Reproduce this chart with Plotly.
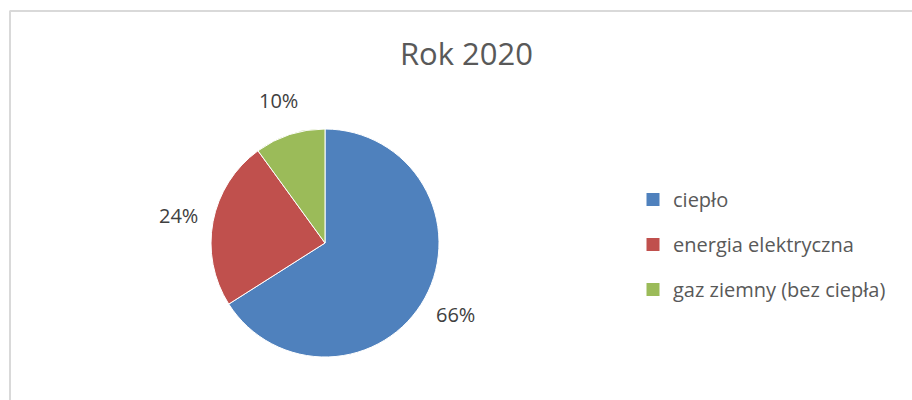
import math
import plotly.graph_objects as go

# ---- data ----
categories = ["ciepło", "energia elektryczna", "gaz ziemny (bez ciepła)"]
values = [66, 24, 10]
label_texts = ["66%", "24%", "10%"]
colors = ["#4F81BD", "#C0504D", "#9BBB59"]
title_text = "Rok 2020"

W, H = 912, 400
# pie geometry (pixels)
cx_px, cy_px, r_px = 325, 243, 114

fig = go.Figure()
fig.add_trace(go.Pie(
    labels=categories, values=values,
    sort=False, direction="clockwise", rotation=0,
    marker=dict(colors=colors, line=dict(color="white", width=1)),
    textinfo="none", hoverinfo="label+percent",
    showlegend=False,
    domain=dict(x=[(cx_px - r_px) / W, (cx_px + r_px) / W],
                y=[1 - (cy_px + r_px) / H, 1 - (cy_px - r_px) / H]),
))

# legend proxies (one group each so the entries are spaced like the original)
for i, (cat, col) in enumerate(zip(categories, colors)):
    fig.add_trace(go.Scatter(
        x=[None], y=[None], mode="markers", name=cat,
        marker=dict(symbol="square", size=13, color=col),
        legendgroup=f"g{i}", showlegend=True,
    ))

# data labels computed from slice mid-angles
total = sum(values)
cum = 0
annotations = []
for v, t in zip(values, label_texts):
    mid = (cum + v / 2) / total * 2 * math.pi  # clockwise from 12 o'clock
    cum += v
    d = r_px * 1.31
    lx = cx_px + d * math.sin(mid)
    ly = cy_px - d * math.cos(mid)
    annotations.append(dict(
        x=lx / W, y=1 - ly / H, xref="paper", yref="paper",
        text=t, showarrow=False, xanchor="center", yanchor="middle",
        font=dict(family="Open Sans", size=20, color="#404040"),
    ))

fig.update_layout(
    width=W, height=H,
    margin=dict(l=0, r=0, t=0, b=0),
    paper_bgcolor="white", plot_bgcolor="white",
    xaxis=dict(visible=False), yaxis=dict(visible=False),
    title=dict(text=title_text, x=466.5 / W, y=1 - 54 / H,
               xanchor="center", yanchor="middle",
               font=dict(family="Open Sans", size=31, color="#595959")),
    legend=dict(x=633 / W, y=1 - 180 / H, xanchor="left", yanchor="top",
                traceorder="grouped", tracegroupgap=16,
                font=dict(family="Open Sans", size=20, color="#595959"),
                bgcolor="rgba(0,0,0,0)"),
    annotations=annotations,
    shapes=[
        dict(type="line", xref="paper", yref="paper",
             x0=9.5 / W, x1=1, y0=1 - 11 / H, y1=1 - 11 / H,
             line=dict(color="#D9D9D9", width=2)),
        dict(type="line", xref="paper", yref="paper",
             x0=10 / W, x1=10 / W, y0=0, y1=1 - 11 / H,
             line=dict(color="#D9D9D9", width=2)),
    ],
)

fig.write_html("out.html")
